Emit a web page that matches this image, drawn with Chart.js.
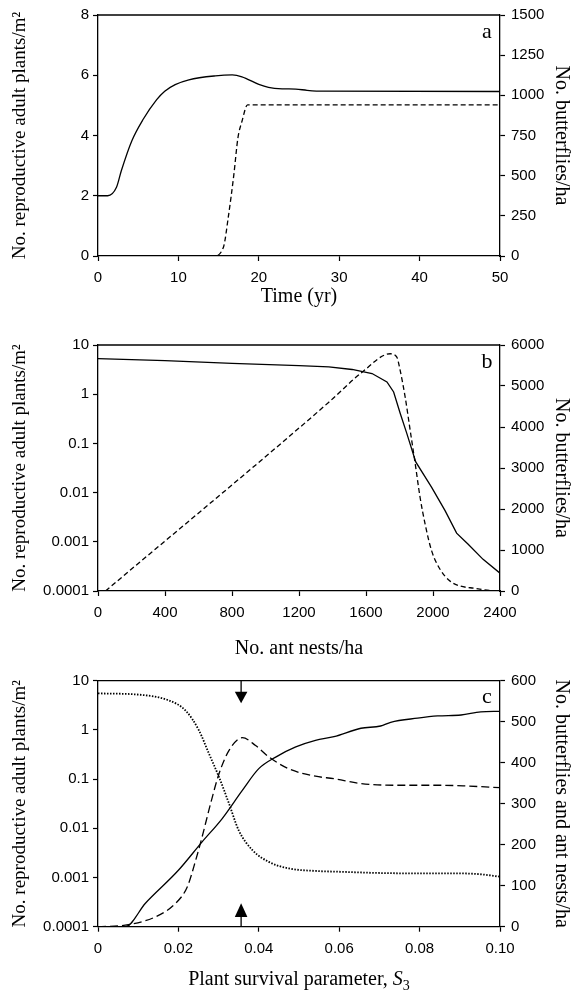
<!DOCTYPE html>
<html>
<head>
<meta charset="utf-8">
<script src="https://cdn.jsdelivr.net/npm/chart.js@4.4.1/dist/chart.umd.min.js"></script>
<style>
  body { margin: 0; background: #fff; width: 573px; height: 993px; position: relative; overflow: hidden; }
  canvas { position: absolute; left: 0; }
</style>
</head>
<body>
<canvas id="panelA"></canvas>
<canvas id="panelB"></canvas>
<canvas id="panelC"></canvas>
<script>
// panel a: time course
const A_TIME_PLANTS = [0, 1.2, 2.3, 2.9, 4.2, 5.6, 7.3, 8.3, 9.6, 11.3, 14.6, 16.7, 17.9, 20, 21.2, 22.9, 24.6, 26, 28, 50];
const A_PLANTS = [2.0, 2.0, 2.28, 2.83, 3.82, 4.53, 5.19, 5.47, 5.69, 5.85, 5.98, 6.01, 5.95, 5.7, 5.6, 5.55, 5.54, 5.5, 5.47, 5.46];
const A_TIME_BUTTERFLIES = [0, 14.4, 15.6, 16.2, 16.9, 17.4, 17.9, 18.6, 50];
const A_BUTTERFLIES = [0, 0, 55, 240, 508, 734, 837, 940, 940];

// panel b: ant nest density
const B_NESTS_PLANTS = [0, 400, 800, 1200, 1378, 1517, 1636, 1725, 1765, 1804, 1844, 1897, 1992, 2072, 2141, 2210, 2299, 2400];
const B_PLANTS = [5.3, 4.8, 4.25, 3.8, 3.6, 3.18, 2.63, 1.78, 1.11, 0.41, 0.158, 0.042, 0.0128, 0.0043, 0.0015, 0.00089, 0.00044, 0.00023];
const B_NESTS_BUTTERFLIES = [45, 1378, 1577, 1745, 1784, 1804, 1834, 1864, 1894, 1923, 1953, 1992, 2042, 2101, 2161, 2250, 2349, 2400];
const B_BUTTERFLIES = [0, 4604, 5337, 5787, 5704, 5379, 4726, 3912, 3098, 2281, 1630, 978, 530, 244, 122, 66, 8, 0];

// panel c: plant survival parameter S3
const C_S3_PLANTS = [0, 0.0068, 0.0118, 0.02, 0.0259, 0.0309, 0.0359, 0.04, 0.0442, 0.0492, 0.0541, 0.0587, 0.0654, 0.0703, 0.0728, 0.0795, 0.0845, 0.0903, 0.0952, 0.1];
const C_PLANTS = [0.0001, 0.0001, 0.0003, 0.0014, 0.0053, 0.0158, 0.059, 0.163, 0.28, 0.45, 0.61, 0.73, 1.08, 1.2, 1.43, 1.73, 1.92, 2.01, 2.32, 2.39];
const C_S3_BUTTERFLIES = [0, 0.0068, 0.0143, 0.0193, 0.0222, 0.0243, 0.0259, 0.028, 0.0301, 0.0326, 0.0359, 0.0392, 0.0425, 0.0475, 0.0541, 0.0587, 0.0654, 0.0753, 0.0853, 0.092, 0.1];
const C_BUTTERFLIES = [0, 4, 24, 57, 97, 162, 219, 300, 373, 430, 461, 442, 414, 385, 367, 361, 349, 345, 345, 343, 339];
const C_S3_NESTS = [0, 0.0101, 0.0176, 0.0218, 0.0251, 0.0276, 0.0301, 0.0326, 0.035, 0.0384, 0.0425, 0.0475, 0.0541, 0.06, 0.07, 0.08, 0.09, 0.095, 0.1];
const C_NESTS = [569, 566, 552, 527, 479, 422, 365, 300, 235, 187, 158, 142, 136, 134, 131, 130, 130, 128, 122];
const C_ARROW_AT = 0.0356;

const LOG_TICKS = [0.0001, 0.001, 0.01, 0.1, 1, 10];

const W = 573;
const PLOT_LEFT = 98, PLOT_RIGHT = 500;
const SANS = 'Liberation Sans';
const SERIF = 'Liberation Serif';
const TITLE_SIZE = 20;

// top edge of the frame, panel letter and the arrows in c
const frame = {
  id: 'frame',
  afterDatasetsDraw(chart, args, opts) {
    const { ctx, chartArea: a } = chart;
    ctx.save();
    ctx.strokeStyle = '#000';
    ctx.lineWidth = 1.3;
    ctx.beginPath();
    ctx.moveTo(a.left, a.top);
    ctx.lineTo(a.right, a.top);
    ctx.stroke();
    ctx.fillStyle = '#000';
    ctx.font = '22px ' + SERIF;
    ctx.textAlign = 'center';
    ctx.textBaseline = 'middle';
    ctx.fillText(opts.letter, a.right - 13, a.top + 17);

    if (opts.arrowAt != null) {
      const px = chart.scales.x.getPixelForValue(opts.arrowAt);
      ctx.beginPath();
      ctx.moveTo(px, a.top); ctx.lineTo(px, a.top + 12);
      ctx.moveTo(px, a.bottom); ctx.lineTo(px, a.bottom - 10);
      ctx.stroke();
      ctx.beginPath();
      ctx.moveTo(px - 6.3, a.top + 11); ctx.lineTo(px + 6.3, a.top + 11); ctx.lineTo(px, a.top + 22.6);
      ctx.closePath(); ctx.fill();
      ctx.beginPath();
      ctx.moveTo(px - 6.3, a.bottom - 9.7); ctx.lineTo(px + 6.3, a.bottom - 9.7); ctx.lineTo(px, a.bottom - 23.4);
      ctx.closePath(); ctx.fill();
    }

    if (opts.richTitle) {
      // "Plant survival parameter, S3" with italic S and subscript 3
      const cy = opts.richTitle.y;
      const p1 = 'Plant survival parameter, ';
      ctx.font = TITLE_SIZE + 'px ' + SERIF;
      const w1 = ctx.measureText(p1).width;
      ctx.font = 'italic ' + TITLE_SIZE + 'px ' + SERIF;
      const w2 = ctx.measureText('S').width;
      ctx.font = '14px ' + SERIF;
      const w3 = ctx.measureText('3').width;
      const sx = (a.left + a.right) / 2 - (w1 + w2 + w3) / 2;
      ctx.textAlign = 'left';
      ctx.textBaseline = 'middle';
      ctx.font = TITLE_SIZE + 'px ' + SERIF;
      ctx.fillText(p1, sx, cy);
      ctx.font = 'italic ' + TITLE_SIZE + 'px ' + SERIF;
      ctx.fillText('S', sx + w1, cy);
      ctx.font = '14px ' + SERIF;
      ctx.fillText('3', sx + w1 + w2, cy + 6);
    }
    ctx.restore();
  }
};

function series(xs, ys, axis, dash, width, straight) {
  return {
    data: xs.map((x, i) => ({ x: x, y: ys[i] })),
    yAxisID: axis,
    borderColor: '#000',
    borderWidth: width || 1.3,
    borderDash: dash,
    pointRadius: 0,
    cubicInterpolationMode: straight ? 'default' : 'monotone',
    tension: 0,
    fill: false
  };
}

function tickFont() {
  return { family: SANS, size: 15 };
}

function titleFont(size) {
  return { family: SERIF, size: size || TITLE_SIZE };
}

function axisGrid() {
  return { drawOnChartArea: false, color: '#000', tickLength: 5, tickWidth: 1.2 };
}

function makePanel(id, p) {
  const canvas = document.getElementById(id);
  const h = p.canvasBottom - p.canvasTop;
  canvas.width = W;
  canvas.height = h;
  canvas.style.width = W + 'px';
  canvas.style.height = h + 'px';
  canvas.style.top = p.canvasTop + 'px';

  const xHeight = p.canvasBottom - p.plotBottom;
  const titlePad = h - (p.titleY - p.canvasTop) - TITLE_SIZE * 0.6;

  const leftAxis = {
    type: p.leftLog ? 'logarithmic' : 'linear',
    position: 'left',
    min: p.leftMin, max: p.leftMax,
    grid: axisGrid(),
    border: { color: '#000', width: 1.3 },
    ticks: { font: tickFont(), color: '#000', padding: 4 },
    title: { display: true, text: 'No. reproductive adult plants/m²', font: titleFont(19), color: '#000', padding: { top: 9, bottom: 0 } },
    afterFit: s => { s.width = PLOT_LEFT; }
  };
  if (p.leftLog) {
    leftAxis.afterBuildTicks = s => { s.ticks = LOG_TICKS.map(v => ({ value: v })); };
    leftAxis.ticks.callback = v => String(v);
  } else {
    leftAxis.ticks.stepSize = p.leftStep;
    leftAxis.ticks.callback = v => String(v);
  }

  new Chart(canvas.getContext('2d'), {
    type: 'line',
    data: { datasets: p.datasets },
    options: {
      responsive: false,
      animation: false,
      devicePixelRatio: 1,
      layout: { padding: { top: p.plotTop - p.canvasTop, left: 0, right: 0, bottom: 0 } },
      plugins: {
        legend: { display: false },
        tooltip: { enabled: false },
        frame: { letter: p.letter, arrowAt: p.arrowAt, richTitle: p.richTitle ? { y: p.titleY - p.canvasTop } : null }
      },
      scales: {
        x: {
          type: 'linear',
          min: p.xMin, max: p.xMax,
          grid: axisGrid(),
          border: { color: '#000', width: 1.3 },
          ticks: { font: tickFont(), color: '#000', padding: 8, stepSize: p.xStep, callback: p.xFormat, maxRotation: 0 },
          title: { display: !p.richTitle, text: p.xTitle, font: titleFont(), color: '#000', padding: { top: 0, bottom: titlePad } },
          afterFit: s => { s.height = xHeight; }
        },
        y: leftAxis,
        y2: {
          type: 'linear',
          position: 'right',
          min: 0, max: p.rightMax,
          grid: axisGrid(),
          border: { color: '#000', width: 1.3 },
          ticks: { font: tickFont(), color: '#000', padding: 6, stepSize: p.rightStep, callback: v => String(v) },
          title: { display: true, text: p.rightTitle, font: titleFont(), color: '#000', padding: { top: 0, bottom: 0 } },
          afterFit: s => { s.width = W - PLOT_RIGHT; }
        }
      }
    },
    plugins: [frame]
  });
}

makePanel('panelA', {
  canvasTop: 0, canvasBottom: 312, plotTop: 13.3, plotBottom: 256, titleY: 297,
  letter: 'a',
  xMin: 0, xMax: 50, xStep: 10, xFormat: v => String(v), xTitle: 'Time (yr)',
  leftMin: 0, leftMax: 8, leftStep: 2,
  rightMax: 1500, rightStep: 250, rightTitle: 'No. butterflies/ha',
  datasets: [
    series(A_TIME_PLANTS, A_PLANTS, 'y', []),
    series(A_TIME_BUTTERFLIES, A_BUTTERFLIES, 'y2', [5, 3])
  ]
});

makePanel('panelB', {
  canvasTop: 330, canvasBottom: 665, plotTop: 344, plotBottom: 591, titleY: 648.5,
  letter: 'b',
  xMin: 0, xMax: 2400, xStep: 400, xFormat: v => String(v), xTitle: 'No. ant nests/ha',
  leftLog: true, leftMin: 0.0001, leftMax: 10,
  rightMax: 6000, rightStep: 1000, rightTitle: 'No. butterflies/ha',
  datasets: [
    series(B_NESTS_PLANTS, B_PLANTS, 'y', [], 1.3, true),
    series(B_NESTS_BUTTERFLIES, B_BUTTERFLIES, 'y2', [5, 3])
  ]
});

makePanel('panelC', {
  canvasTop: 665, canvasBottom: 993, plotTop: 680.7, plotBottom: 926.7, titleY: 980,
  letter: 'c', arrowAt: C_ARROW_AT, richTitle: true,
  xMin: 0, xMax: 0.1, xStep: 0.02, xFormat: v => (v === 0 ? '0' : v.toFixed(2)), xTitle: 'Plant survival parameter, S3',
  leftLog: true, leftMin: 0.0001, leftMax: 10,
  rightMax: 600, rightStep: 100, rightTitle: 'No. butterflies and ant nests/ha',
  datasets: [
    series(C_S3_PLANTS, C_PLANTS, 'y', []),
    series(C_S3_BUTTERFLIES, C_BUTTERFLIES, 'y2', [8, 4]),
    series(C_S3_NESTS, C_NESTS, 'y2', [1.5, 1.5], 1.8)
  ]
});
</script>
</body>
</html>
